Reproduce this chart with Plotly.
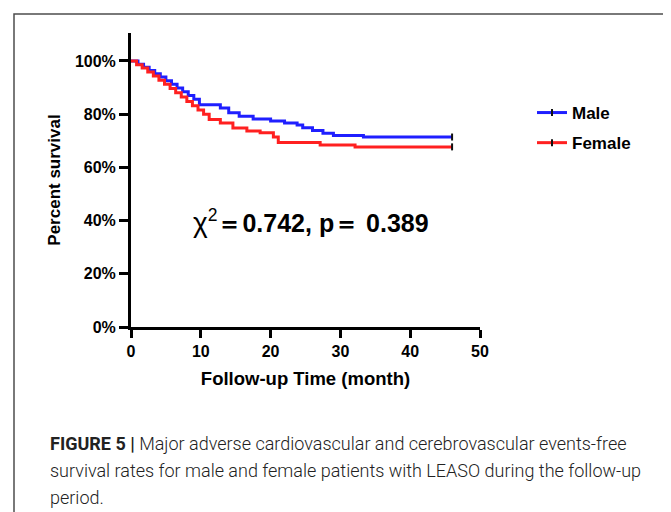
import plotly.graph_objects as go

# ---- data ----
male_t = [0, 1.0, 1.8, 2.6, 3.4, 4.2, 5.0, 5.8, 6.6, 7.4, 8.2, 9.0, 9.8, 12.8, 14.0, 15.5, 17.5, 20.0, 22.0, 23.8, 24.6, 26.0, 27.5, 29.0, 33.3, 46.0]
male_s = [100, 98.8, 97.6, 96.4, 95.2, 94.0, 92.6, 91.2, 89.8, 88.4, 87.0, 85.6, 83.5, 82.3, 80.5, 79.2, 78.2, 77.4, 76.7, 75.9, 74.9, 73.9, 72.8, 72.0, 71.4, 71.4]
female_t = [0, 0.8, 1.6, 2.4, 3.2, 4.0, 4.8, 5.6, 6.4, 7.2, 8.0, 8.8, 9.6, 10.4, 11.2, 12.8, 14.6, 16.6, 18.5, 20.4, 21.1, 27.1, 32.1, 46.0]
female_s = [100, 98.6, 97.3, 95.8, 94.3, 92.7, 91.2, 89.6, 88.0, 86.4, 84.8, 83.2, 81.6, 80.0, 78.0, 76.7, 74.8, 73.7, 73.0, 71.4, 69.3, 68.4, 67.7, 67.7]

x_ticks = [0, 10, 20, 30, 40, 50]
y_ticks = [0, 20, 40, 60, 80, 100]
y_tick_labels = ["0%", "20%", "40%", "60%", "80%", "100%"]

BLUE = "#1f1fff"
RED = "#ff2020"

# page body has an 8px margin; work in window pixels and shift
OFF = 8
W, H = 671 - OFF, 512 - OFF
PLOT_L, PLOT_R, PLOT_T, PLOT_B = 131, 480, 33, 327  # window pixels
L, T = PLOT_L - OFF, PLOT_T - OFF
R, B = W - (PLOT_R - OFF), H - (PLOT_B - OFF)
PW, PH = W - L - R, H - T - B


def px(x):
    return (x - OFF - L) / PW


def py(y):
    return (H - B - (y - OFF)) / PH


FONT = "Liberation Sans, Arial, sans-serif"

fig = go.Figure()

for name, t, s, col in [("Male", male_t, male_s, BLUE), ("Female", female_t, female_s, RED)]:
    fig.add_trace(go.Scatter(
        x=t, y=s, mode="lines", line=dict(color=col, width=3, shape="hv"),
        legendgroup=name, showlegend=False, hoverinfo="skip"))
    fig.add_trace(go.Scatter(
        x=[t[-1]], y=[s[-1]], mode="lines+markers", name=name,
        legendgroup=name,
        line=dict(color=col, width=3),
        marker=dict(symbol="line-ns-open", size=5, color="#111111",
                    line=dict(color="#111111", width=2))))

fig.update_layout(
    width=W, height=H,
    margin=dict(l=L, r=R, t=T, b=B, autoexpand=False),
    paper_bgcolor="white", plot_bgcolor="white",
    font=dict(family=FONT, color="black"),
    showlegend=True,
    legend=dict(x=px(532), y=py(128), xanchor="left", yanchor="middle",
                font=dict(size=17, family=FONT, color="black", weight="bold"),
                traceorder="grouped", tracegroupgap=5,
                bgcolor="rgba(0,0,0,0)", itemwidth=30),
    xaxis=dict(range=[0, 50], tickvals=x_ticks, ticktext=[str(v) for v in x_ticks],
               showgrid=False, zeroline=False, showline=True, linecolor="black",
               linewidth=3, ticks="outside", ticklen=8, tickwidth=3, tickcolor="black",
               tickfont=dict(size=16, family=FONT, weight="bold"),
               title=dict(text="Follow-up Time (month)", standoff=13,
                          font=dict(size=18.5, family=FONT, weight="bold"))),
    yaxis=dict(range=[0, 110.5], tickvals=y_ticks, ticktext=y_tick_labels,
               showgrid=False, zeroline=False, showline=True, linecolor="black",
               linewidth=3, ticks="outside", ticklen=9, tickwidth=3, tickcolor="black",
               tickfont=dict(size=16, family=FONT, weight="bold"),
               title=dict(text="Percent survival", standoff=10,
                          font=dict(size=17, family=FONT, weight="bold"))),
)

# statistic annotation
fig.add_annotation(
    x=px(311), y=py(222), xref="paper", yref="paper", showarrow=False,
    xanchor="center", yanchor="middle",
    text="<span style='font-size:28px'>χ</span><sup>2</sup><b>＝0.742, p＝ 0.389</b>",
    font=dict(size=25, family=FONT, color="black"))

# figure frame
fig.add_shape(type="rect", xref="paper", yref="paper",
              x0=px(14), x1=px(700), y0=py(560), y1=py(14),
              line=dict(color="#4d4d4d", width=1.5), layer="below")

# caption
cap_lines = [
    "<b>FIGURE 5 |</b> Major adverse cardiovascular and cerebrovascular events-free",
    "survival rates for male and female patients with LEASO during the follow-up",
    "period.",
]
cap_y = [443, 470, 497]
for line, yy in zip(cap_lines, cap_y):
    fig.add_annotation(x=px(48), y=py(yy), xref="paper", yref="paper",
                       showarrow=False, xanchor="left", yanchor="middle",
                       text=line, font=dict(size=18, family="Roboto", weight=300,
                                            color="#222222"))

fig.write_html("out.html")
